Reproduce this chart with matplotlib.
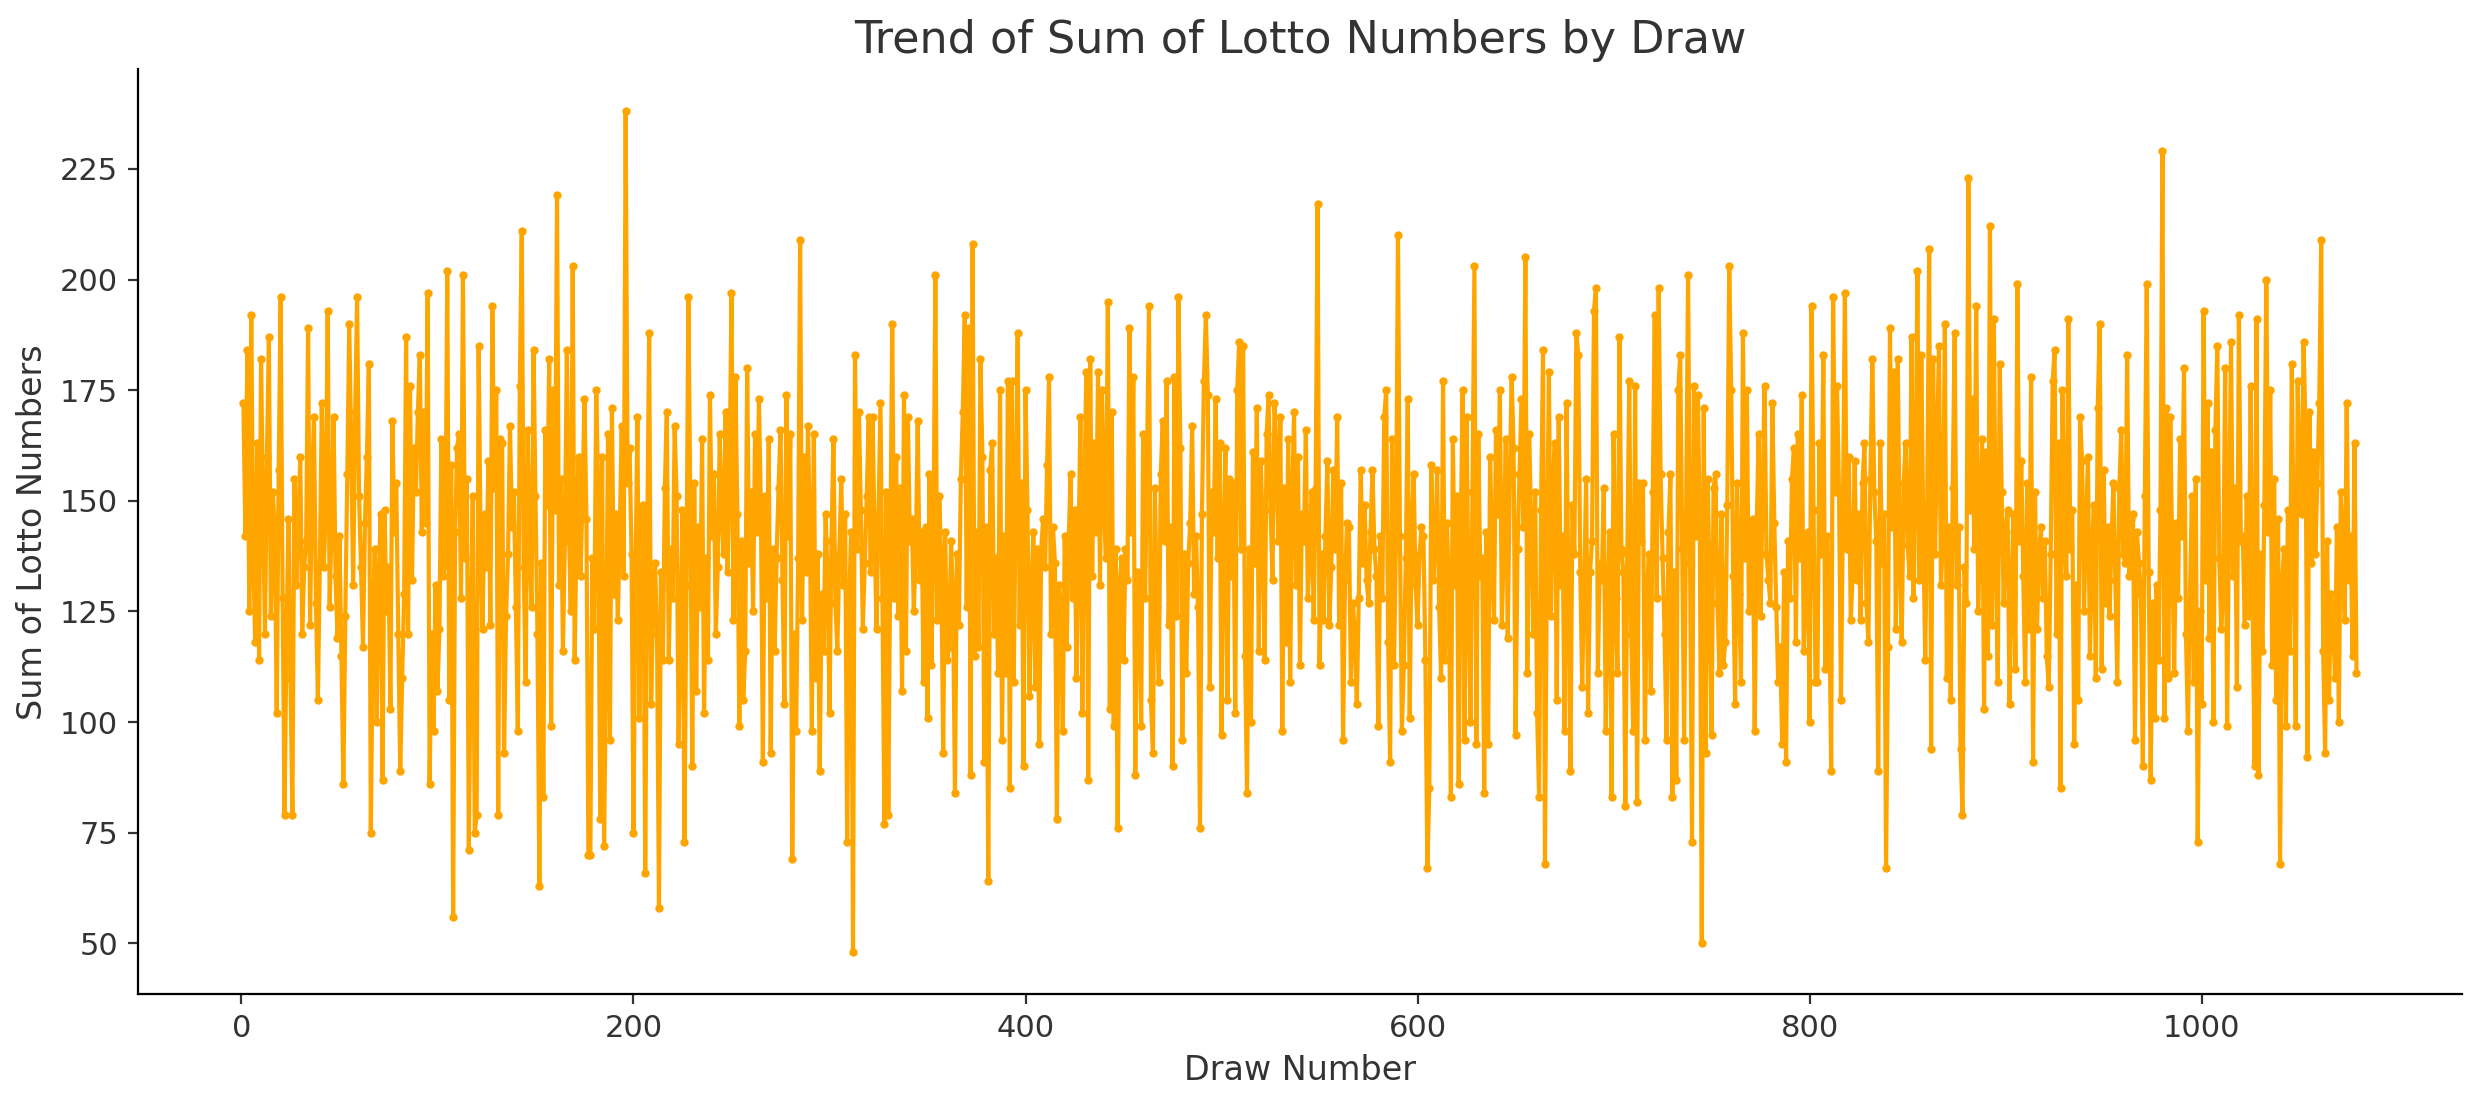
import numpy as np
import matplotlib
matplotlib.use("Agg")
import matplotlib.pyplot as plt

# sums, one list per stretch of ~90 draws
c1 = [172,142,184,125,192,138,118,163,114,182,
      149,120,160,187,124,152,144,102,157,196,
      128,79,120,146,110,79,155,131,145,160,
      120,135,141,189,122,153,169,127,105,136,
      172,135,148,193,126,145,169,133,119,142,
      115,86,124,156,190,160,131,170,196,151,
      135,117,145,160,181,75,120,139,100,132,
      147,87,148,125,135,103,168,143,154,120,
      89,110,129,187,120,176,132,162]
c2 = [152,170,183,143,170,145,197,86,120,98,
      131,107,121,164,133,136,202,105,158,56,
      143,162,165,128,201,137,155,71,120,151,
      75,79,185,142,121,147,135,159,122,194,
      153,175,79,164,163,93,124,138,167,144,
      152,126,98,176,211,135,109,166,139,126,
      184,151,120,63,136,83,166,149,182,99,
      175,148,219,131,155,116,141,184,146,125,
      203,114,145,160,133,151,173,146,70]
c3 = [70,137,121,175,152,78,160,72,113,165,
      96,171,129,147,123,143,167,133,238,154,
      162,138,75,132,169,101,148,149,66,141,
      188,104,127,136,120,58,134,114,153,170,
      114,139,128,167,151,95,120,148,73,131,
      196,149,90,154,107,144,126,164,102,137,
      114,174,142,156,120,135,165,146,138,170,
      134,155,197,123,178,147,99,141,105,116,
      180,136,152,125,165,143,173,148,91,151]
c4 = [128,164,93,139,116,137,153,166,132,104,
      174,142,165,69,120,98,137,209,123,160,
      134,167,144,98,165,110,138,89,129,116,
      147,133,102,141,164,127,116,138,155,131,
      147,73,126,143,48,183,139,170,148,121,
      136,151,169,134,169,142,121,147,172,128,
      77,152,79,137,190,128,160,124,153,107,
      174,116,169,141,146,125,138,168,132,143,
      109,144,101,156,113,139,201,123,151]
c5 = [136,93,143,114,117,141,128,84,138,122,
      155,170,192,126,189,88,208,115,143,117,
      182,160,91,144,64,157,163,120,137,111,
      175,96,142,111,177,85,177,109,152,188,
      122,154,90,175,148,106,129,143,108,139,
      95,139,146,135,158,178,120,144,136,78,
      131,127,98,142,117,141,156,128,148,110,
      138,169,102,153,179,87,182,133,163,143,
      179,131,175,149,137,195,103,170,99]
c6 = [139,76,131,137,114,139,132,189,143,178,
      88,134,131,99,165,128,160,194,105,93,
      153,126,109,156,168,141,177,122,144,90,
      178,124,196,162,96,138,111,136,145,167,
      129,142,126,76,147,177,192,174,108,152,
      143,173,137,163,97,142,162,105,155,133,
      154,102,175,186,139,185,115,84,139,100,
      161,136,171,116,159,144,114,165,174,148,
      132,172,162,141,169,98,153,118,164,109]
c7 = [151,170,131,160,113,147,141,166,128,138,
      152,123,153,217,113,138,123,142,159,122,
      135,157,139,169,122,154,96,132,145,144,
      109,127,120,104,128,157,136,149,132,127,
      143,157,139,133,99,142,128,169,175,118,
      91,164,113,141,210,142,98,113,137,173,
      101,144,156,131,122,138,144,142,114,67,
      85,158,132,139,157,126,110,177,114,145,
      129,83,164,131,151,86,142,175,96]
c8 = [169,128,100,152,203,95,165,133,137,84,
      143,95,160,138,123,166,147,175,122,141,
      164,119,154,178,162,97,139,156,173,144,
      205,111,165,142,120,152,102,83,148,184,
      68,137,179,124,153,163,105,169,131,142,
      98,172,127,89,149,138,188,183,134,108,
      131,155,102,134,141,193,198,111,136,132,
      153,98,129,143,83,165,128,111,187,139,
      134,81,138,177,120,98,176,82,154]
c9 = [141,154,96,129,138,107,152,192,128,198,
      156,137,120,96,143,156,83,134,87,175,
      183,139,96,147,201,136,73,176,142,174,
      143,50,171,93,155,131,97,153,156,127,
      111,147,113,118,149,203,175,133,104,154,
      129,109,188,137,175,125,127,146,98,144,
      165,124,151,176,138,132,127,172,145,126,
      109,117,95,134,91,141,128,155,162,118,
      165,137,174,116,131,143,100,194,148,109]
c10 = [109,163,138,183,112,142,129,89,196,152,
       176,152,105,147,197,139,160,123,134,159,
       132,147,123,154,163,127,118,155,182,152,
       141,89,163,136,147,67,117,189,144,179,
       121,182,137,118,154,163,140,133,187,128,
       151,202,132,183,143,114,149,207,94,182,
       138,163,185,131,141,190,110,144,105,153,
       188,131,144,94,79,135,127,223,148,173,
       139,194,125,146,164,103,161,115,212]
c11 = [122,191,138,109,181,152,127,143,148,104,
       129,147,112,199,141,159,133,109,154,121,
       178,91,152,121,137,144,128,141,115,108,
       138,177,184,120,163,85,175,142,133,191,
       139,148,95,131,105,169,159,125,144,160,
       115,136,149,110,171,190,112,157,127,144,
       124,141,154,132,109,153,166,138,136,183,
       133,146,147,96,143,136,129,90,151,199,
       134,87,127,101,131,114,148,229]
c12 = [101,171,110,169,139,111,145,128,164,142,
       180,120,98,127,151,109,155,73,125,104,
       193,132,172,119,161,100,166,185,137,121,
       129,180,99,147,186,133,153,108,192,141,
       142,122,151,124,176,127,90,191,88,138,
       116,149,200,143,175,113,155,105,146,68,
       131,139,99,148,116,181,138,99,177,152,
       147,186,166,92,170,136,161,138,154,172,
       209,116,93,141,105,129,124,110,144,100,
       152,139,123,172,132,142,115,163,111]

sums = np.array(c1 + c2 + c3 + c4 + c5 + c6 + c7 + c8 + c9 + c10 + c11 + c12)
draws = np.arange(1, len(sums) + 1)

fig = plt.figure(figsize=(12.41, 5.505), dpi=200)
ax = fig.add_axes([0.0555, 0.097, 0.9365, 0.84])
ax.plot(draws, sums, color='orange', lw=1.5, marker='o', markersize=2)

ax.set_title('Trend of Sum of Lotto Numbers by Draw', fontsize=16, color='#333333')
ax.set_xlabel('Draw Number', fontsize=12, color='#333333')
ax.set_ylabel('Sum of Lotto Numbers', fontsize=12, color='#333333')
ax.tick_params(labelsize=11, direction='out', colors='#333333')
ax.spines['top'].set_visible(False)
ax.spines['right'].set_visible(False)

fig.savefig('out.png', dpi=200)
